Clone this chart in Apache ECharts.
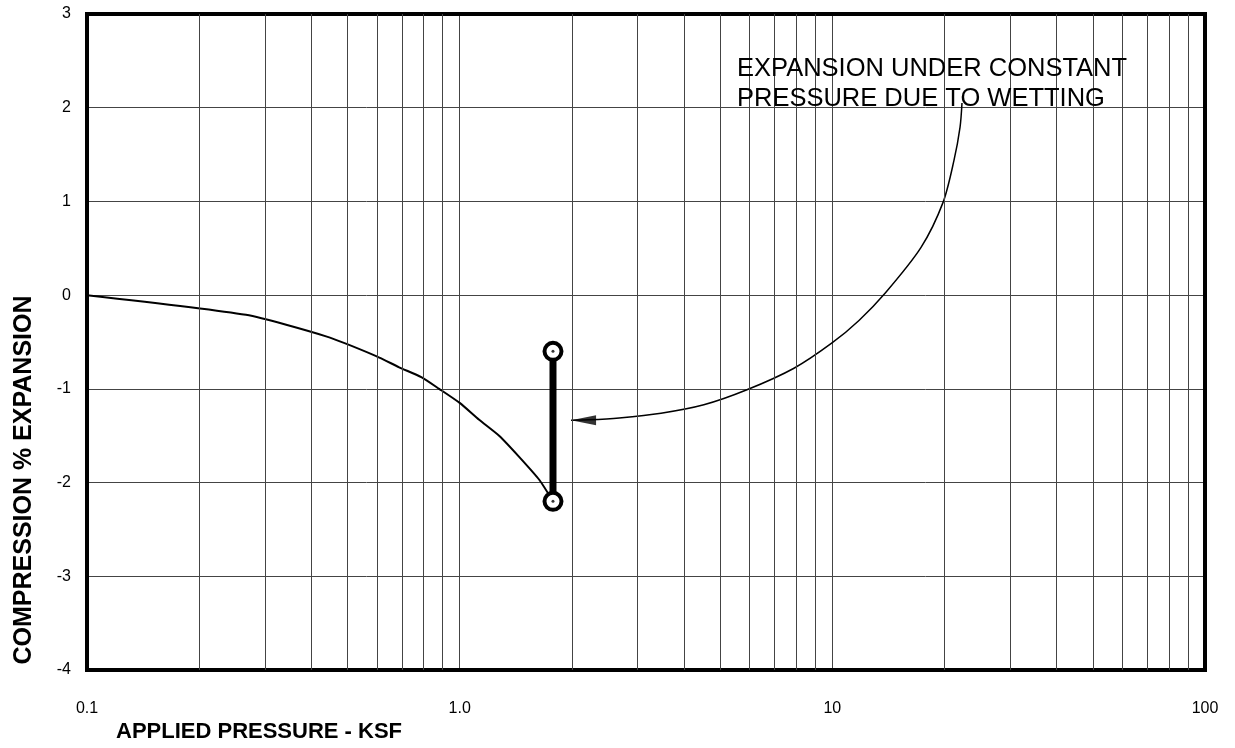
<!DOCTYPE html>
<html>
<head>
<meta charset="utf-8">
<script src="https://cdn.jsdelivr.net/npm/echarts@6/dist/echarts.min.js"></script>
<style>
html,body{margin:0;padding:0;background:#fff;}
#chart{width:1235px;height:748px;}
</style>
</head>
<body>
<div id="chart"></div>
<script>
// ---- data ----
const xTickValues = [0.1, 1, 10, 100];
const xTickLabels = ['0.1', '1.0', '10', '100'];
const yMin = -4, yMax = 3, yInterval = 1;
const minorGridX = [0.2,0.3,0.4,0.5,0.6,0.7,0.8,0.9, 2,3,4,5,6,7,8,9, 20,30,40,50,60,70,80,90];

const curveX = [0.1, 0.267, 0.438, 0.597, 0.688, 0.789, 0.881, 1.0, 1.128, 1.276, 1.44, 1.635, 1.78];
const curveY = [0, -0.21, -0.44, -0.65, -0.77, -0.875, -1.0, -1.15, -1.33, -1.5, -1.72, -1.97, -2.2];

const barX = [1.78, 1.78];
const barY = [-0.6, -2.2];

const arrowX = [22.28, 22.01, 21.21, 19.82, 17.30, 13.85, 11.79, 9.98, 7.89, 5.90, 4.52, 3.47, 2.68, 2.22, 1.99];
const arrowY = [2.05, 1.79, 1.44, 0.99, 0.51, 0.02, -0.27, -0.51, -0.78, -1.01, -1.17, -1.26, -1.31, -1.33, -1.334];

const annotationLines = ['EXPANSION UNDER CONSTANT', 'PRESSURE DUE TO WETTING'];
const xTitle = 'APPLIED PRESSURE - KSF';
const yTitle = 'COMPRESSION % EXPANSION';

// ---- chart ----
const zip = (xs, ys) => xs.map((x, i) => [x, ys[i]]);
const FONT = '"Liberation Sans", Arial, Helvetica, sans-serif';
const GRIDC = '#444';

const chart = echarts.init(document.getElementById('chart'), null, {renderer: 'canvas'});
chart.setOption({
  animation: false,
  backgroundColor: '#fff',
  grid: {left: 87, right: 30, top: 14, bottom: 78, show: true, borderColor: '#000', borderWidth: 4, backgroundColor: 'transparent', z: 5},
  xAxis: {
    type: 'log', logBase: 10, min: xTickValues[0], max: xTickValues[xTickValues.length - 1],
    axisLine: {show: false}, axisTick: {show: false},
    splitLine: {show: true, lineStyle: {color: GRIDC, width: 1}},
    axisLabel: {
      margin: 31, fontSize: 16, color: '#000', fontFamily: FONT,
      formatter: v => xTickLabels[Math.round(Math.log10(v)) + 1] || ''
    }
  },
  yAxis: {
    type: 'value', min: yMin, max: yMax, interval: yInterval,
    axisLine: {show: false}, axisTick: {show: false},
    splitLine: {show: true, lineStyle: {color: GRIDC, width: 1}},
    axisLabel: {margin: 16, fontSize: 16, color: '#000', fontFamily: FONT}
  },
  series: [
    {
      type: 'line', data: [], z: 1, silent: true,
      markLine: {
        silent: true, symbol: ['none', 'none'], label: {show: false},
        lineStyle: {color: GRIDC, width: 1, type: 'solid'},
        data: minorGridX.map(v => ({xAxis: v}))
      }
    },
    {
      type: 'line', data: zip(curveX, curveY), showSymbol: false, smooth: 0.2, z: 3,
      lineStyle: {color: '#000', width: 2}
    },
    {
      type: 'line', data: zip(arrowX, arrowY), showSymbol: false, smooth: 0.3, z: 3,
      lineStyle: {color: '#000', width: 1.5}
    },
    {
      type: 'scatter', data: [[arrowX[arrowX.length - 1], arrowY[arrowY.length - 1]]], z: 4,
      symbol: 'path://M0,5L25,0L25,10Z', symbolSize: [25, 10], symbolOffset: [12.5, 0],
      symbolKeepAspect: false,
      itemStyle: {color: '#000'}
    },
    {
      type: 'line', data: zip(barX, barY), z: 6,
      symbol: 'circle', symbolSize: 17, showSymbol: true,
      lineStyle: {color: '#000', width: 7},
      itemStyle: {color: '#fff', borderColor: '#000', borderWidth: 4}
    },
    {
      type: 'scatter', data: zip(barX, barY), z: 7, symbol: 'circle', symbolSize: 3,
      itemStyle: {color: '#000'}
    }
  ],
  graphic: [
    {
      type: 'text', left: 737, top: 54, z: 10,
      style: {text: annotationLines.join('\n'), font: '25.5px ' + FONT, fill: '#000', lineHeight: 30}
    },
    {
      type: 'text', left: 116, top: 721, z: 10,
      style: {text: xTitle, font: 'bold 22px ' + FONT, fill: '#000'}
    },
    {
      type: 'text', x: 24, y: 480, rotation: Math.PI / 2, z: 10,
      style: {text: yTitle, font: 'bold 25px ' + FONT, fill: '#000', align: 'center', verticalAlign: 'middle'}
    }
  ]
});
</script>
</body>
</html>
